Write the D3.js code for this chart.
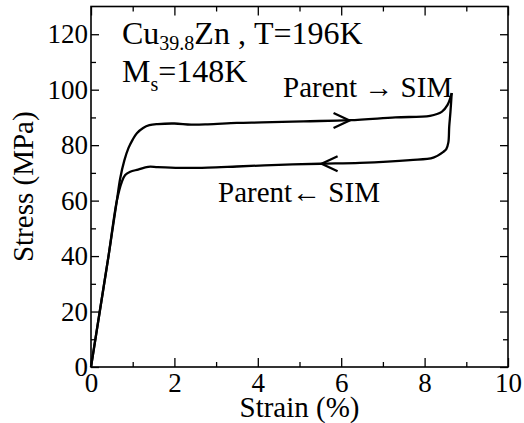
<!DOCTYPE html>
<html>
<head>
<meta charset="utf-8">
<script src="https://cdn.jsdelivr.net/npm/d3@7"></script>
<style>
  body { margin: 0; background: #fff; }
  svg text { font-family: "Liberation Serif", Tinos, "DejaVu Serif", serif !important; fill: #000; }
</style>
</head>
<body>
<script>
// loading branch (parent -> SIM)
const loadStrain = [0, 0.21, 0.42, 0.62, 0.7, 0.8, 0.9, 1.0, 1.1, 1.25, 1.4, 1.6, 2.0, 2.4, 2.8, 3.5, 4.1, 5.1, 6.2, 7.3, 8.13, 8.41, 8.55, 8.65]
const loadStress = [0, 20, 40, 60, 68, 74.5, 79, 82, 84.3, 86.2, 87.2, 87.6, 87.8, 87.4, 87.5, 88.0, 88.2, 88.6, 89.0, 90.0, 90.6, 92.0, 94.5, 98.8]
// unloading branch (SIM -> parent)
const unloadStrain = [8.65, 8.62, 8.59, 8.57, 8.52, 8.45, 8.21, 7.65, 6.45, 5.5, 4.5, 3.5, 2.8, 2.2, 1.6, 1.37, 1.13, 0.94, 0.82, 0.74, 0.62, 0.42, 0.21, 0]
const unloadStress = [98.8, 92, 86.6, 81, 78.6, 77.6, 75.5, 74.6, 73.6, 73.3, 72.9, 72.3, 71.9, 71.8, 72.1, 72.2, 71.2, 70.4, 69.2, 66.8, 60, 40, 20, 0]
// direction arrows: [strain, stress, direction]
const arrowStrain = [6.2, 5.53]
const arrowStress = [88.9, 73.3]
const arrowDir = [1, -1]

const xTicks = [0, 2, 4, 6, 8, 10]
const xMinor = [1, 3, 5, 7, 9]
const yTicks = [0, 20, 40, 60, 80, 100, 120]
const yMinor = [10, 30, 50, 70, 90, 110]

const width = 524
const height = 423
const margin = { top: 6.5, right: 16, bottom: 56, left: 91 }
const w = width - margin.left - margin.right
const h = height - margin.top - margin.bottom

const svg = d3.select("body")
    .append("svg")
    .attr("width", width)
    .attr("height", height)

const g = svg.append("g")
    .attr("transform", `translate(${margin.left},${margin.top})`)

const x = d3.scaleLinear().domain([0, 10]).range([0, w])
const y = d3.scaleLinear().domain([0, 130]).range([h, 0])

// ticks, all pointing inward
const addAxis = (axis, tx, ty, vals, size, labels) => {
    const a = g.append("g")
        .attr("transform", `translate(${tx},${ty})`)
        .call(axis.tickValues(vals).tickSize(-size).tickSizeOuter(0)
            .tickFormat(labels ? d3.format("d") : ""))
    a.attr("font-family", null)
    a.select(".domain").remove()
    a.selectAll(".tick line").attr("stroke", "#000").attr("stroke-width", 1.3)
    return a
}
const xa = addAxis(d3.axisBottom(x).tickPadding(6), 0, h, xTicks, 9, true)
addAxis(d3.axisBottom(x), 0, h, xMinor, 5, false)
addAxis(d3.axisTop(x), 0, 0, xTicks, 9, false)
addAxis(d3.axisTop(x), 0, 0, xMinor, 5, false)
const ya = addAxis(d3.axisLeft(y).tickPadding(3), 0, 0, yTicks, 8, true)
addAxis(d3.axisLeft(y), 0, 0, yMinor, 5, false)
addAxis(d3.axisRight(y), w, 0, yTicks, 8, false)
addAxis(d3.axisRight(y), w, 0, yMinor, 5, false)

xa.selectAll("text").attr("font-size", 27)
ya.selectAll("text").attr("font-size", 27)

g.append("rect")
    .attr("width", w)
    .attr("height", h)
    .attr("fill", "none")
    .attr("stroke", "#000")
    .attr("stroke-width", 1.6)

// curves
const line = d3.line()
    .x((d) => x(d[0]))
    .y((d) => y(d[1]))
    .curve(d3.curveCatmullRom.alpha(0.5))

const branches = [
    d3.zip(loadStrain, loadStress),
    d3.zip(unloadStrain, unloadStress),
]
g.selectAll("path.branch")
    .data(branches)
    .join("path")
    .attr("class", "branch")
    .attr("fill", "none")
    .attr("stroke", "#000")
    .attr("stroke-width", 2.3)
    .attr("stroke-linejoin", "round")
    .attr("d", line)

// open arrowheads
g.selectAll("path.arrow")
    .data(d3.zip(arrowStrain, arrowStress, arrowDir))
    .join("path")
    .attr("class", "arrow")
    .attr("fill", "none")
    .attr("stroke", "#000")
    .attr("stroke-width", 2.3)
    .attr("d", (d) => {
        const px = x(d[0]), py = y(d[1]), s = d[2]
        return `M${px - s * 16},${py - 7.5}L${px},${py}L${px - s * 16},${py + 7.5}`
    })

// axis titles
svg.append("text")
    .attr("x", margin.left + w / 2)
    .attr("y", 417)
    .attr("text-anchor", "middle")
    .attr("font-size", 29)
    .text("Strain (%)")

svg.append("text")
    .attr("transform", `translate(33,${margin.top + h / 2}) rotate(-90)`)
    .attr("text-anchor", "middle")
    .attr("font-size", 29)
    .text("Stress (MPa)")

// annotations
const t1 = svg.append("text").attr("x", 122).attr("y", 44).attr("font-size", 32)
t1.append("tspan").text("Cu")
t1.append("tspan").attr("font-size", 20).attr("dy", 6).text("39.8")
t1.append("tspan").attr("dy", -6).text("Zn ,")
t1.append("tspan").attr("x", 254).text("T=196K")

const t2 = svg.append("text").attr("x", 122).attr("y", 82).attr("font-size", 32)
t2.append("tspan").text("M")
t2.append("tspan").attr("font-size", 20).attr("dy", 9).text("s")
t2.append("tspan").attr("dy", -9).text("=148K")

const t3 = svg.append("text").attr("x", 283).attr("y", 97).attr("font-size", 29)
t3.append("tspan").text("Parent ")
t3.append("tspan").text("→")
t3.append("tspan").text(" SIM")

const t4 = svg.append("text").attr("x", 218).attr("y", 202).attr("font-size", 29)
t4.append("tspan").text("Parent")
t4.append("tspan").text("←")
t4.append("tspan").text(" SIM")
</script>
</body>
</html>
